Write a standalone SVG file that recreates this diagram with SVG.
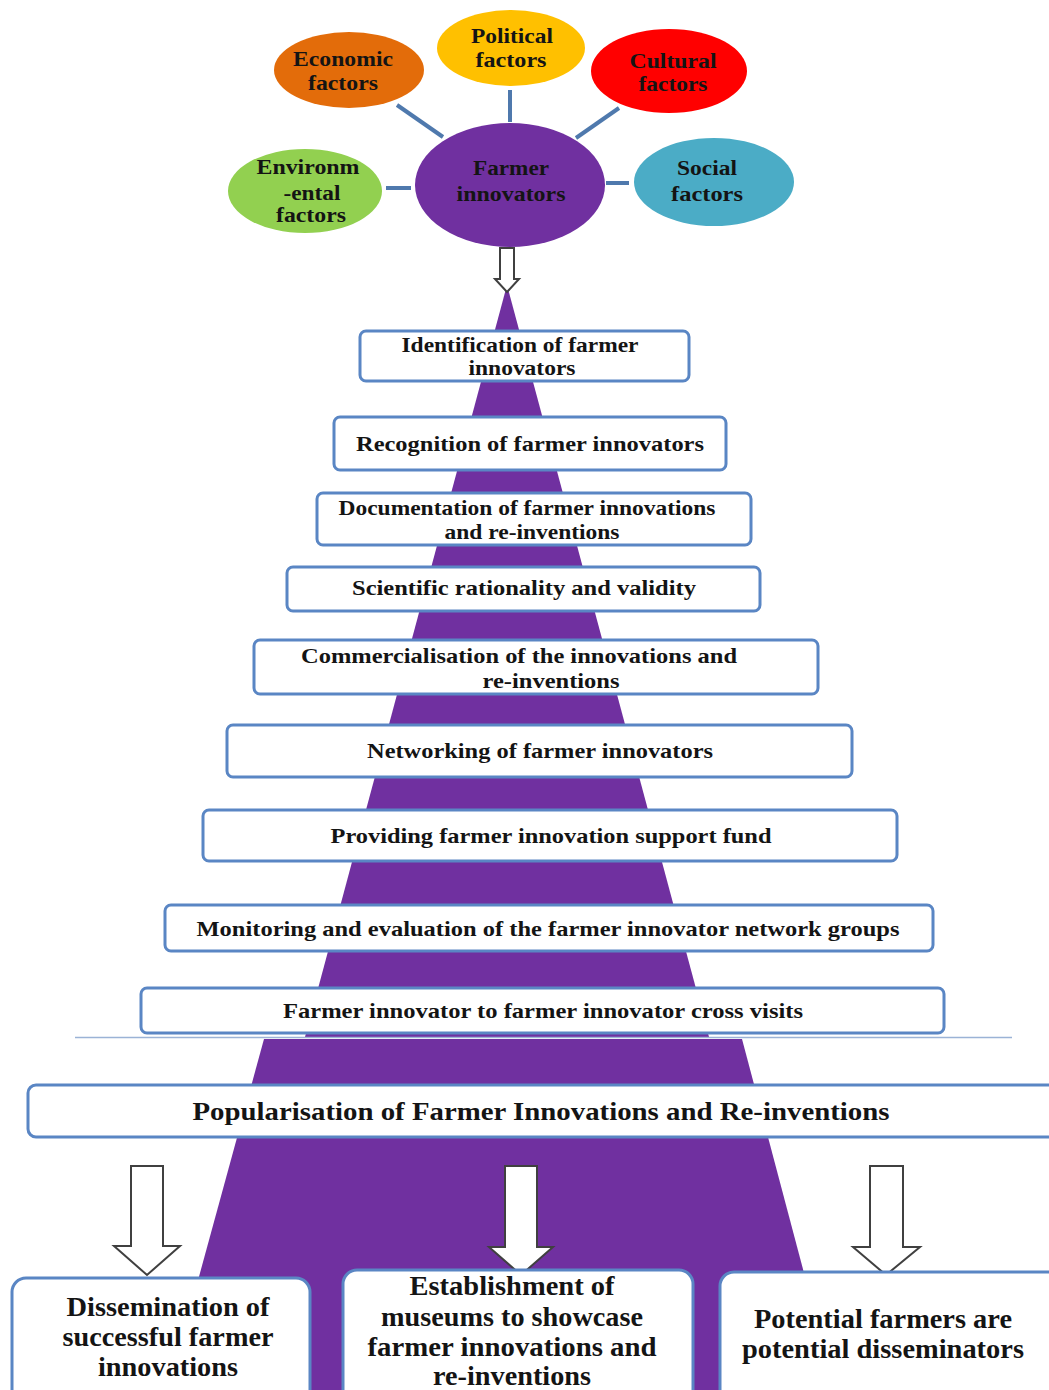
<svg xmlns="http://www.w3.org/2000/svg" width="1049" height="1390" viewBox="0 0 1049 1390">
<defs>
<style>
.t{font-family:"Liberation Serif","Times New Roman",serif;font-weight:bold;fill:#141414;text-anchor:middle}
.s{font-size:22px}
.e{font-size:20px}
.p{font-size:26px}
.b{font-size:27px}
.box{fill:#ffffff;stroke:#5a86c4;stroke-width:3}
.conn{stroke:#4f79ad;stroke-width:4;fill:none}
.harrow{fill:#ffffff;stroke:#404040;stroke-width:2;stroke-linejoin:miter}
</style>
</defs>
<rect width="1049" height="1390" fill="#ffffff"/>
<g id="pyramid">
<polygon points="507,285 709,1037 305,1037" fill="#7030a0"/>
<polygon points="264,1039 742,1039 835,1390 168,1390" fill="#7030a0"/>
<line x1="75" y1="1037.5" x2="1012" y2="1037.5" stroke="#9bb3d6" stroke-width="1.5"/>
</g>
<g id="connectors">
<line class="conn" x1="397" y1="105" x2="443" y2="137"/>
<line class="conn" x1="510" y1="90" x2="510" y2="122"/>
<line class="conn" x1="619" y1="108" x2="576" y2="138"/>
<line class="conn" x1="386" y1="188" x2="411" y2="188"/>
<line class="conn" x1="606" y1="183" x2="629" y2="183"/>
<polygon class="harrow" points="500,248 514,248 514,279 519,279 507,292 495,279 500,279"/>
<polygon class="harrow" points="131,1166 163,1166 163,1246 180,1246 147,1275 114,1246 131,1246"/>
<polygon class="harrow" points="505,1166 537,1166 537,1247 553,1247 521,1275 489,1247 505,1247"/>
<polygon class="harrow" points="870,1166 903,1166 903,1247 920,1247 886,1275 853,1247 870,1247"/>
</g>
<g id="economic">
<ellipse cx="349" cy="70" rx="75" ry="38" fill="#e36c0a"/>
<text class="t s" x="343" y="66" textLength="100" lengthAdjust="spacingAndGlyphs">Economic</text>
<text class="t s" x="343" y="90" textLength="70" lengthAdjust="spacingAndGlyphs">factors</text>
</g>
<g id="political">
<ellipse cx="511" cy="48" rx="74" ry="38" fill="#ffc000"/>
<text class="t s" x="512" y="43" textLength="82" lengthAdjust="spacingAndGlyphs">Political</text>
<text class="t s" x="511" y="67" textLength="71" lengthAdjust="spacingAndGlyphs">factors</text>
</g>
<g id="cultural">
<ellipse cx="669" cy="71" rx="78" ry="42" fill="#ff0000"/>
<text class="t e" x="673" y="68" textLength="87" lengthAdjust="spacingAndGlyphs">Cultural</text>
<text class="t e" x="673" y="91" textLength="69" lengthAdjust="spacingAndGlyphs">factors</text>
</g>
<g id="environmental">
<ellipse cx="305" cy="191" rx="77" ry="42" fill="#92d050"/>
<text class="t e" x="308" y="174" textLength="103" lengthAdjust="spacingAndGlyphs">Environm</text>
<text class="t e" x="312" y="200" textLength="57" lengthAdjust="spacingAndGlyphs">-ental</text>
<text class="t e" x="311" y="222" textLength="70" lengthAdjust="spacingAndGlyphs">factors</text>
</g>
<g id="farmer-innovators">
<ellipse cx="510" cy="185" rx="95" ry="62" fill="#7030a0"/>
<text class="t s" x="511" y="175" textLength="76" lengthAdjust="spacingAndGlyphs">Farmer</text>
<text class="t s" x="511" y="201" textLength="109" lengthAdjust="spacingAndGlyphs">innovators</text>
</g>
<g id="social">
<ellipse cx="714" cy="182" rx="80" ry="44" fill="#4bacc6"/>
<text class="t s" x="707" y="175" textLength="60" lengthAdjust="spacingAndGlyphs">Social</text>
<text class="t s" x="707" y="201" textLength="72" lengthAdjust="spacingAndGlyphs">factors</text>
</g>
<g id="step1">
<rect class="box" x="360" y="331" width="329" height="50" rx="6"/>
<text class="t s" x="520" y="352" textLength="237" lengthAdjust="spacingAndGlyphs">Identification of farmer</text>
<text class="t s" x="522" y="375" textLength="107" lengthAdjust="spacingAndGlyphs">innovators</text>
</g>
<g id="step2">
<rect class="box" x="334" y="417" width="392" height="53" rx="6"/>
<text class="t s" x="530" y="451" textLength="348" lengthAdjust="spacingAndGlyphs">Recognition of farmer innovators</text>
</g>
<g id="step3">
<rect class="box" x="317" y="493" width="434" height="52" rx="6"/>
<text class="t s" x="527" y="515" textLength="377" lengthAdjust="spacingAndGlyphs">Documentation of farmer innovations</text>
<text class="t s" x="532" y="539" textLength="175" lengthAdjust="spacingAndGlyphs">and re-inventions</text>
</g>
<g id="step4">
<rect class="box" x="287" y="567" width="473" height="44" rx="6"/>
<text class="t s" x="524" y="595" textLength="344" lengthAdjust="spacingAndGlyphs">Scientific rationality and validity</text>
</g>
<g id="step5">
<rect class="box" x="254" y="640" width="564" height="54" rx="6"/>
<text class="t s" x="519" y="663" textLength="436" lengthAdjust="spacingAndGlyphs">Commercialisation of the innovations and</text>
<text class="t s" x="551" y="688" textLength="137" lengthAdjust="spacingAndGlyphs">re-inventions</text>
</g>
<g id="step6">
<rect class="box" x="227" y="725" width="625" height="52" rx="6"/>
<text class="t s" x="540" y="758" textLength="346" lengthAdjust="spacingAndGlyphs">Networking of farmer innovators</text>
</g>
<g id="step7">
<rect class="box" x="203" y="810" width="694" height="51" rx="6"/>
<text class="t s" x="551" y="843" textLength="441" lengthAdjust="spacingAndGlyphs">Providing farmer innovation support fund</text>
</g>
<g id="step8">
<rect class="box" x="165" y="905" width="768" height="46" rx="6"/>
<text class="t s" x="548" y="936" textLength="703" lengthAdjust="spacingAndGlyphs">Monitoring and evaluation of the farmer innovator network groups</text>
</g>
<g id="step9">
<rect class="box" x="141" y="988" width="803" height="45" rx="6"/>
<text class="t s" x="543" y="1018" textLength="520" lengthAdjust="spacingAndGlyphs">Farmer innovator to farmer innovator cross visits</text>
</g>
<g id="popularisation">
<rect class="box" x="28" y="1085" width="1040" height="52" rx="8"/>
<text class="t p" x="541" y="1120" textLength="697" lengthAdjust="spacingAndGlyphs">Popularisation of Farmer Innovations and Re-inventions</text>
</g>
<g id="dissemination">
<rect class="box" x="12" y="1278" width="298" height="130" rx="14"/>
<text class="t b" x="168" y="1316" textLength="203" lengthAdjust="spacingAndGlyphs">Dissemination of</text>
<text class="t b" x="168" y="1346" textLength="211" lengthAdjust="spacingAndGlyphs">successful farmer</text>
<text class="t b" x="168" y="1376" textLength="140" lengthAdjust="spacingAndGlyphs">innovations</text>
</g>
<g id="museums">
<rect class="box" x="343" y="1270" width="350" height="140" rx="14"/>
<text class="t b" x="512" y="1295" textLength="205" lengthAdjust="spacingAndGlyphs">Establishment of</text>
<text class="t b" x="512" y="1326" textLength="262" lengthAdjust="spacingAndGlyphs">museums to showcase</text>
<text class="t b" x="512" y="1356" textLength="289" lengthAdjust="spacingAndGlyphs">farmer innovations and</text>
<text class="t b" x="512" y="1385" textLength="158" lengthAdjust="spacingAndGlyphs">re-inventions</text>
</g>
<g id="potential">
<rect class="box" x="720" y="1272" width="345" height="140" rx="14"/>
<text class="t b" x="883" y="1328" textLength="258" lengthAdjust="spacingAndGlyphs">Potential farmers are</text>
<text class="t b" x="883" y="1358" textLength="282" lengthAdjust="spacingAndGlyphs">potential disseminators</text>
</g>
</svg>
